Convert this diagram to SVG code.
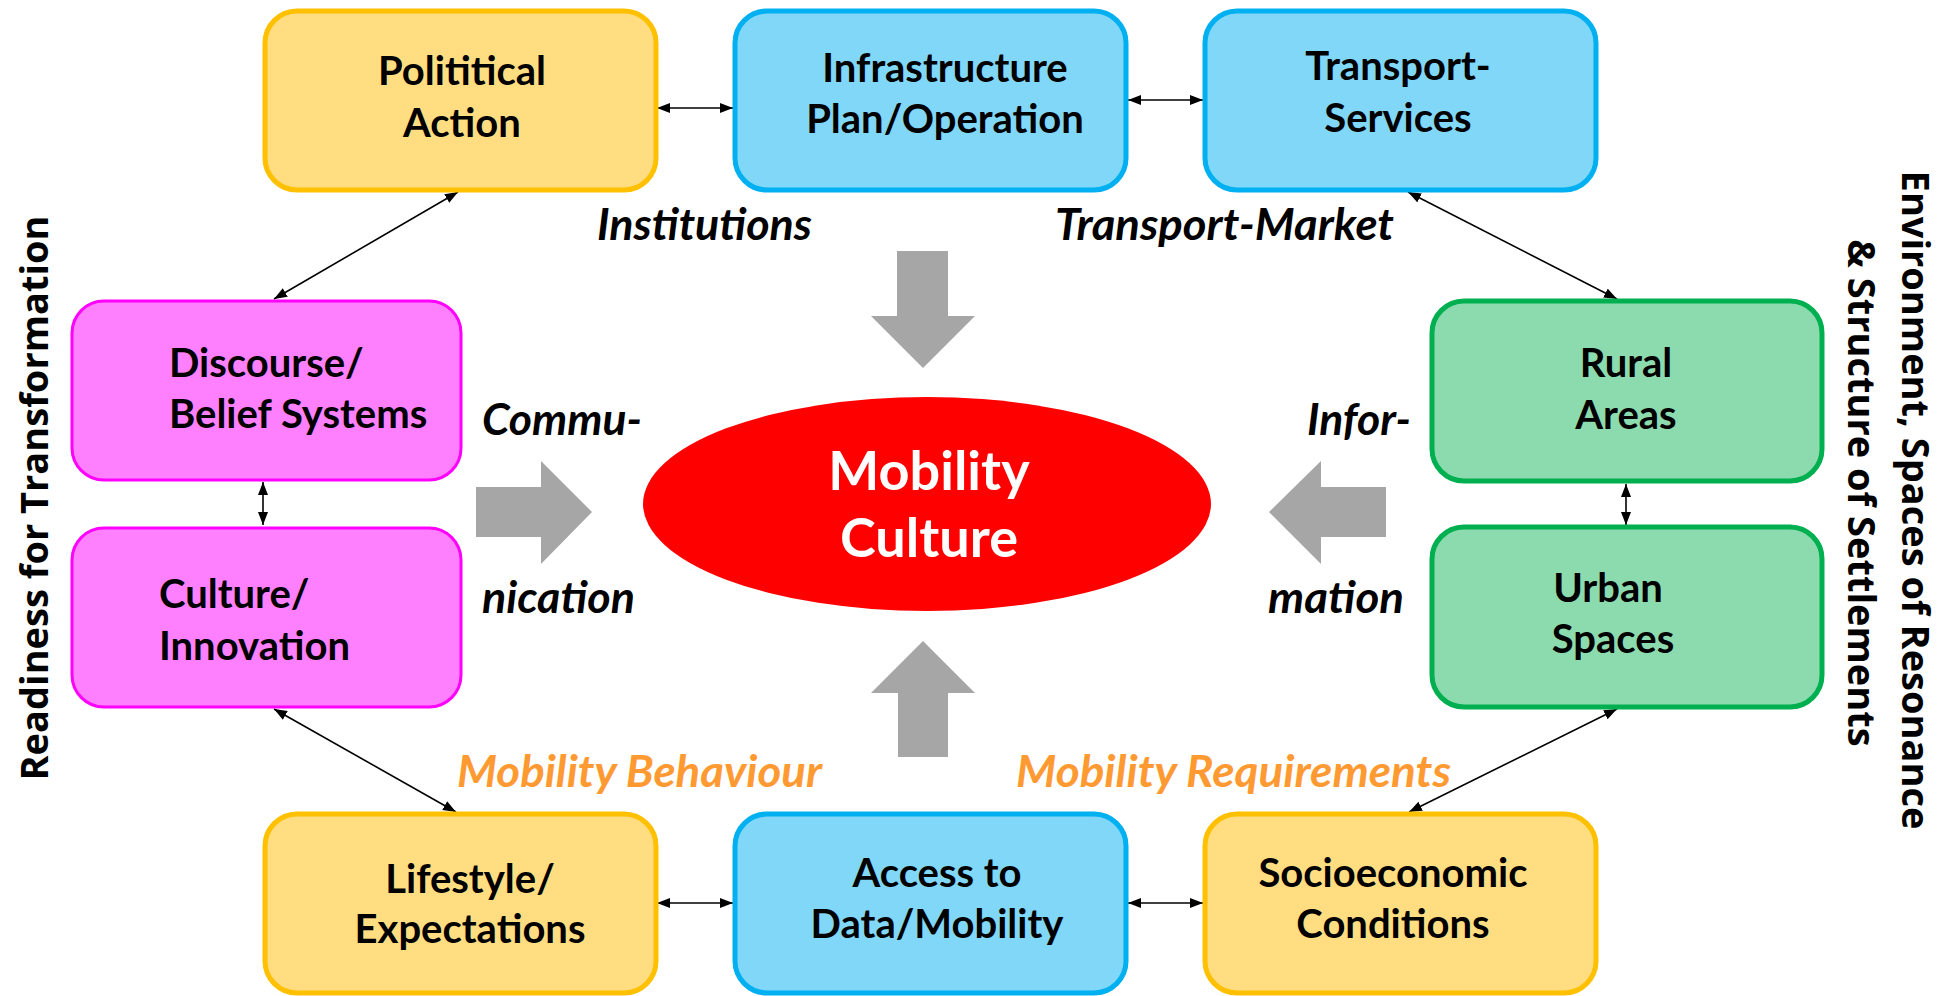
<svg xmlns="http://www.w3.org/2000/svg" width="1944" height="996" viewBox="0 0 1944 996">
<defs>
<marker id="ah" viewBox="0 0 13 10" refX="13" refY="5" markerWidth="13" markerHeight="10" markerUnits="userSpaceOnUse" orient="auto-start-reverse">
<path d="M0,0 L13,5 L0,10 Z" fill="#000"/>
</marker>
</defs>
<style>
.y{fill:#FFDD80;stroke:#FFC000;stroke-width:5}
.b{fill:#80D7F7;stroke:#00B0F0;stroke-width:5}
.p{fill:#FF80FF;stroke:#FF00FF;stroke-width:3}
.g{fill:#8CDBAE;stroke:#00B050;stroke-width:5}
.lbl{font-family:Lato,"Open Sans",sans-serif;font-weight:bold;font-size:40px;fill:#000;text-anchor:middle}
.ll{text-anchor:start}
.it{font-family:Lato,"Open Sans",sans-serif;font-weight:bold;font-style:italic;font-size:44px;fill:#000}
.or{fill:#FF9A33}
.side{font-family:"Open Sans",Lato,sans-serif;font-weight:bold;font-size:38px;fill:#000;text-anchor:middle}
.con{stroke:#000;stroke-width:1.6;fill:none;marker-start:url(#ah);marker-end:url(#ah)}
.ga{fill:#A6A6A6}
</style>
<rect width="1944" height="996" fill="#fff"/>

<g id="connectors">
<line class="con" x1="657" y1="108" x2="733" y2="108"/>
<line class="con" x1="1128" y1="100" x2="1203" y2="100"/>
<line class="con" x1="458" y1="192" x2="274" y2="299"/>
<line class="con" x1="263" y1="482" x2="263" y2="525"/>
<line class="con" x1="274" y1="709" x2="456" y2="812"/>
<line class="con" x1="657" y1="903" x2="733" y2="903"/>
<line class="con" x1="1128" y1="903" x2="1203" y2="903"/>
<line class="con" x1="1617" y1="709" x2="1409" y2="812"/>
<line class="con" x1="1408" y1="192" x2="1617" y2="299"/>
<line class="con" x1="1626" y1="484" x2="1626" y2="525"/>
</g>

<g id="flow-arrows">
<path class="ga" d="M897,251 H948 V316 H975 L923,368 L871,316 H897 Z"/>
<path class="ga" d="M898,757 H948 V693 H975 L923,641 L871,693 H898 Z"/>
<path class="ga" d="M476,487 H541 V461 L592,512 L541,564 V537 H476 Z"/>
<path class="ga" d="M1386,487 H1321 V461 L1269,512 L1321,564 V537 H1386 Z"/>
</g>

<g id="political-action">
<rect class="y" x="265" y="11" width="391" height="179" rx="32"/>
<text class="lbl" x="462" y="85">Polititical</text>
<text class="lbl" x="462" y="137">Action</text>
</g>
<g id="infrastructure">
<rect class="b" x="735" y="11" width="391" height="179" rx="32"/>
<text class="lbl" x="945" y="82">Infrastructure</text>
<text class="lbl" x="945" y="133">Plan/Operation</text>
</g>
<g id="transport-services">
<rect class="b" x="1205" y="11" width="391" height="179" rx="32"/>
<text class="lbl" x="1398" y="80">Transport-</text>
<text class="lbl" x="1398" y="132">Services</text>
</g>
<g id="discourse">
<rect class="p" x="72" y="301" width="389" height="179" rx="32"/>
<text class="lbl ll" x="169" y="377">Discourse/</text>
<text class="lbl ll" x="169" y="428">Belief Systems</text>
</g>
<g id="culture">
<rect class="p" x="72" y="528" width="389" height="179" rx="32"/>
<text class="lbl ll" x="159" y="608">Culture/</text>
<text class="lbl ll" x="159" y="660">Innovation</text>
</g>
<g id="rural">
<rect class="g" x="1432" y="301" width="390" height="180" rx="32"/>
<text class="lbl" x="1626" y="377">Rural</text>
<text class="lbl" x="1626" y="429">Areas</text>
</g>
<g id="urban">
<rect class="g" x="1432" y="527" width="390" height="180" rx="32"/>
<text class="lbl" x="1608" y="602">Urban</text>
<text class="lbl" x="1613" y="653">Spaces</text>
</g>
<g id="lifestyle">
<rect class="y" x="265" y="814" width="391" height="179" rx="32"/>
<text class="lbl" x="470" y="893">Lifestyle/</text>
<text class="lbl" x="470" y="943">Expectations</text>
</g>
<g id="access">
<rect class="b" x="735" y="814" width="391" height="179" rx="32"/>
<text class="lbl" x="937" y="887">Access to</text>
<text class="lbl" x="937" y="938">Data/Mobility</text>
</g>
<g id="socioeconomic">
<rect class="y" x="1205" y="814" width="391" height="179" rx="32"/>
<text class="lbl" x="1393" y="887">Socioeconomic</text>
<text class="lbl" x="1393" y="938">Conditions</text>
</g>

<g id="mobility-culture">
<ellipse cx="927" cy="504" rx="284" ry="107" fill="#FF0000"/>
<text class="lbl" x="929" y="490" style="font-size:54px;fill:#fff">Mobility</text>
<text class="lbl" x="929" y="557" style="font-size:54px;fill:#fff">Culture</text>
</g>

<g id="labels">
<text class="it" x="597" y="240" textLength="215" lengthAdjust="spacingAndGlyphs">Institutions</text>
<text class="it" x="1055" y="240" textLength="339" lengthAdjust="spacingAndGlyphs">Transport-Market</text>
<text class="it" x="482" y="435" textLength="160" lengthAdjust="spacingAndGlyphs">Commu-</text>
<text class="it" x="482" y="613" textLength="153" lengthAdjust="spacingAndGlyphs">nication</text>
<text class="it" x="1307" y="435" textLength="104" lengthAdjust="spacingAndGlyphs">Infor-</text>
<text class="it" x="1268" y="613" textLength="136" lengthAdjust="spacingAndGlyphs">mation</text>
<text class="it or" x="457" y="787" textLength="365" lengthAdjust="spacingAndGlyphs">Mobility Behaviour</text>
<text class="it or" x="1016" y="787" textLength="435" lengthAdjust="spacingAndGlyphs">Mobility Requirements</text>
<text class="side" transform="translate(48,498) rotate(-90)">Readiness for Transformation</text>
<text class="side" transform="translate(1902,500) rotate(90)">Environment, Spaces of Resonance</text>
<text class="side" transform="translate(1848,493) rotate(90)">&amp; Structure of Settlements</text>
</g>
</svg>
